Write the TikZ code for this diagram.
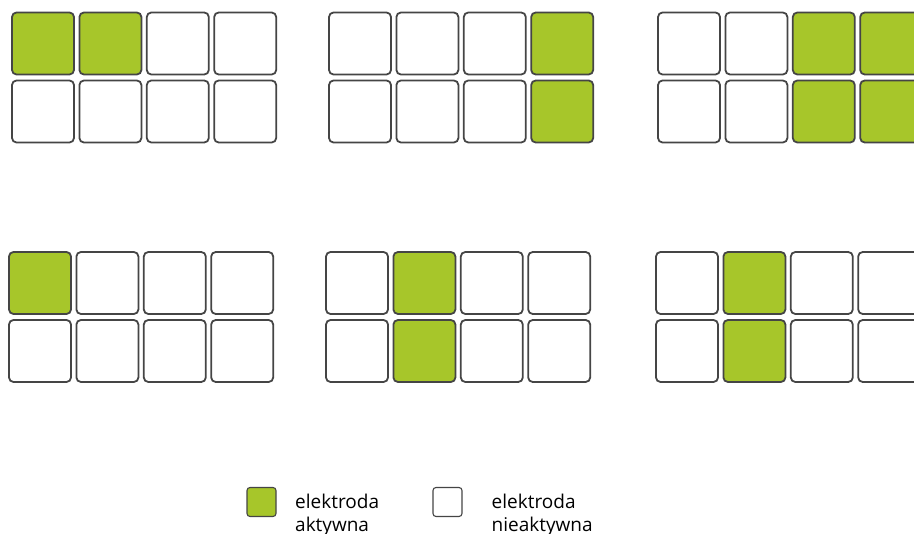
\documentclass[tikz,border=0pt]{standalone}
\usepackage{fontspec}
\setmainfont{Open Sans}

\definecolor{zielony}{HTML}{A7C62A}
\definecolor{ramka}{HTML}{454545}

\tikzset{
  elektroda/.style={draw=ramka, line width=1.8pt, rounded corners=4.5pt,
    minimum size=62pt, inner sep=0pt, fill=white},
  aktywna/.style={elektroda, fill=zielony},
  % active electrodes: grid, row, column
  a11/.style={aktywna}, a12/.style={aktywna},
  b14/.style={aktywna}, b24/.style={aktywna},
  c13/.style={aktywna}, c14/.style={aktywna},
  c23/.style={aktywna}, c24/.style={aktywna},
  d11/.style={aktywna},
  e12/.style={aktywna}, e22/.style={aktywna},
  f12/.style={aktywna}, f22/.style={aktywna},
  legenda/.style={elektroda, line width=1.1pt, rounded corners=3pt, minimum size=29pt},
  opis/.style={anchor=north west, inner sep=0pt, align=left,
    font=\fontsize{19}{23}\selectfont}
}

\begin{document}
\begin{tikzpicture}[x=1pt,y=-1pt]

        \useasboundingbox (0,0) rectangle (914,534);
        \clip (0,0) rectangle (914,534);

        \foreach \g/\gx/\gy in {a/12/12.5, b/329/12.5, c/658/12.5,
                                d/9/252, e/326/252, f/656/252}
          \foreach \r in {1,2}
            \foreach \c in {1,...,4}
              \node[elektroda, \g\r\c/.try] (\g\r\c)
                at ({\gx+31+(\c-1)*67.4},{\gy+31+(\r-1)*68}) {};

        \node[legenda, fill=zielony] (LA) at (261.5,502) {};
        \node[opis] (TA) at (295,493.5) {elektroda\\aktywna};

        \node[legenda] (LN) at (447.5,502) {};
        \node[opis] (TN) at (491.5,493.5) {elektroda\\nieaktywna};

        \end{tikzpicture}
\end{document}
